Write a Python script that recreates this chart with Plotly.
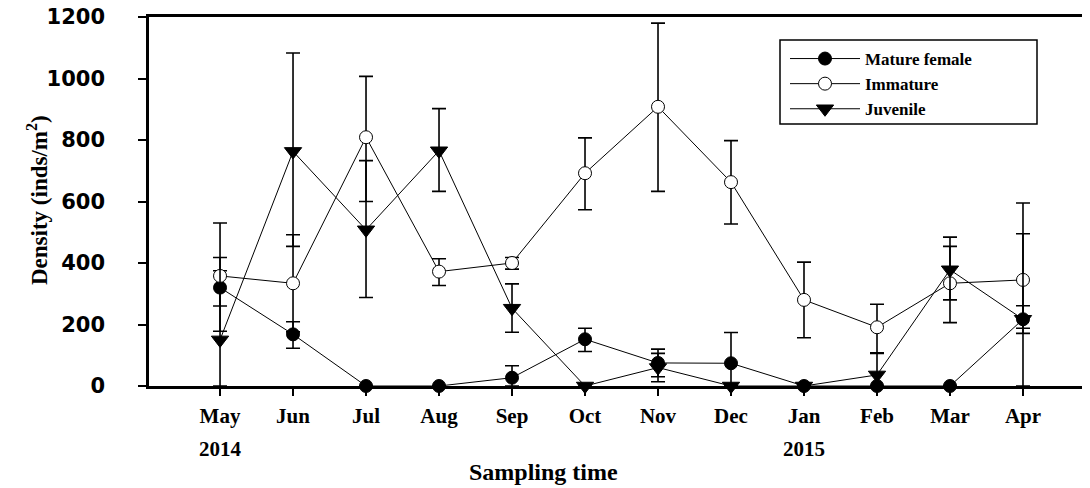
import plotly.graph_objects as go

months = ["May", "Jun", "Jul", "Aug", "Sep", "Oct", "Nov", "Dec", "Jan", "Feb", "Mar", "Apr"]
xpos = list(range(len(months)))

mature = [320, 168, 0, 0, 27, 152, 75, 74, 0, 0, 0, 217]
mature_up = [55, 41, 0, 0, 39, 36, 45, 100, 0, 0, 0, 44]
mature_dn = [60, 45, 0, 0, 27, 40, 45, 74, 0, 0, 0, 46]

immature = [358, 334, 809, 372, 400, 692, 908, 663, 280, 191, 334, 345]
immature_up = [60, 158, 198, 42, 18, 115, 272, 135, 123, 75, 120, 250]
immature_dn = [180, 158, 209, 45, 20, 119, 275, 136, 123, 83, 128, 157]

juvenile = [150, 763, 508, 765, 253, 0, 60, 0, 0, 36, 378, 217]
juvenile_up = [380, 320, 225, 137, 79, 0, 46, 0, 0, 70, 106, 278]
juvenile_dn = [150, 309, 220, 132, 78, 0, 46, 0, 0, 36, 98, 217]

year_labels = ["2014", "2015"]
year_pos = [0, 8]

serif = "Liberation Serif"

# page has an 8px body margin, so figure coords = page coords - 8
OFF = 8
W, H = 1090 - OFF, 488 - OFF
L, T = 149 - OFF, 17 - OFF
R = 0
B = H - (386 - OFF)
PH = H - T - B
PW = W - L - R


def py(ypage):
    return (H - B - (ypage - OFF)) / PH


def px(xpage):
    return ((xpage - OFF) - L) / PW


def err(up, dn):
    return dict(type="data", symmetric=False, array=up, arrayminus=dn,
                color="black", thickness=1.6, width=7, visible=True)


fig = go.Figure()
fig.add_trace(go.Scatter(
    x=xpos, y=mature, name="Mature female", mode="lines+markers",
    line=dict(color="black", width=1),
    marker=dict(symbol="circle", size=13, color="black", line=dict(color="black", width=1)),
    error_y=err(mature_up, mature_dn), cliponaxis=False))
fig.add_trace(go.Scatter(
    x=xpos, y=immature, name="Immature", mode="lines+markers",
    line=dict(color="black", width=1),
    marker=dict(symbol="circle", size=13, color="white", line=dict(color="black", width=1)),
    error_y=err(immature_up, immature_dn), cliponaxis=False))
fig.add_trace(go.Scatter(
    x=xpos, y=juvenile, name="Juvenile", mode="lines+markers",
    line=dict(color="black", width=1),
    marker=dict(symbol="triangle-down", size=15, color="black", line=dict(color="black", width=1)),
    error_y=err(juvenile_up, juvenile_dn), cliponaxis=False))

for lab, p in zip(year_labels, year_pos):
    fig.add_annotation(x=p, y=py(449), xref="x", yref="paper", text=lab, showarrow=False,
                       font=dict(family=serif, size=21, color="black", weight="bold"),
                       yanchor="middle", xanchor="center")

fig.add_annotation(x=px(543), y=py(472), xref="paper", yref="paper", text="Sampling time",
                   showarrow=False, yanchor="middle", xanchor="center",
                   font=dict(family=serif, size=24, color="black", weight="bold"))
fig.add_annotation(x=px(37), y=py(200), xref="paper", yref="paper",
                   text="Density (inds/m<sup>2</sup>)", textangle=-90,
                   showarrow=False, yanchor="middle", xanchor="center",
                   font=dict(family=serif, size=23, color="black", weight="bold"))

# legend frame
fig.add_shape(type="rect", xref="paper", yref="paper",
              x0=px(780), x1=px(1037), y0=py(40), y1=py(124),
              line=dict(color="black", width=1.5), fillcolor="rgba(0,0,0,0)", layer="above")

fig.update_layout(
    width=W, height=H,
    margin=dict(l=L, r=R, t=T, b=B, autoexpand=False),
    paper_bgcolor="white", plot_bgcolor="white",
    showlegend=True,
    legend=dict(x=px(785), y=py(41), xanchor="left", yanchor="top",
                borderwidth=0, bgcolor="rgba(0,0,0,0)",
                font=dict(family=serif, size=17, color="black", weight="bold"),
                tracegroupgap=0, itemwidth=70),
    xaxis=dict(range=[-0.973, 11.918], tickmode="array", tickvals=xpos, ticktext=months,
               showgrid=False, zeroline=False, showline=True, linecolor="black", linewidth=2.5,
               mirror=True, ticks="outside", ticklen=7, tickwidth=2, tickcolor="black",
               automargin=False, ticklabelstandoff=2,
               tickfont=dict(family=serif, size=21, color="black", weight="bold")),
    yaxis=dict(range=[0, 1200], tickvals=[0, 200, 400, 600, 800, 1000, 1200],
               showgrid=False, zeroline=False, showline=True, linecolor="black", linewidth=2.5,
               ticks="outside", ticklen=8, tickwidth=2, tickcolor="black", ticklabelstandoff=29,
               automargin=False, ticklabeloverflow="allow",
               tickfont=dict(family="DejaVu Sans", size=21, color="black", weight="bold")),
)

fig.write_html("out.html")
